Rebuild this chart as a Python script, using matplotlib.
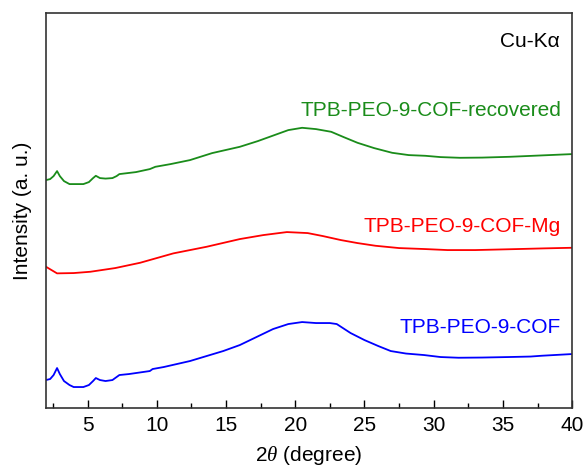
import numpy as np
import matplotlib
matplotlib.use('Agg')
from matplotlib import pyplot as plt
from matplotlib.ticker import MultipleLocator

plt.rcParams['font.family'] = ['Liberation Sans', 'DejaVu Sans']
plt.rcParams['mathtext.fontset'] = 'custom'
plt.rcParams['mathtext.rm'] = 'Liberation Sans'
plt.rcParams['mathtext.it'] = 'Liberation Serif:italic'

# XRD patterns (intensity in arbitrary, offset units)
cof_x = [2.0, 2.3, 2.55, 2.8, 3.0, 3.3, 3.7, 4.0, 4.7, 5.1, 5.4, 5.6, 5.9, 6.3, 6.8, 7.1,
         7.3, 8.0, 9.0, 9.5, 9.7, 10.5, 12.4, 14.8, 16.0, 17.2, 18.4, 19.5, 20.5, 21.5,
         22.5, 23.0, 24.0, 25.0, 26.0, 26.9, 28.0, 29.3, 30.5, 31.8, 33.5, 35.4, 37.0,
         37.8, 40.0]
cof_y = [89, 90, 94, 101, 95, 88, 84, 82, 82, 84, 88, 91, 89, 88, 89, 92,
         94, 95, 97, 98, 100, 102, 108, 118, 124, 132, 140, 145, 147, 146,
         146, 145, 136, 129, 123, 118, 115.5, 114, 112, 111.3, 111.5, 112, 112.5,
         113.3, 115]

mg_x = [2.0, 2.4, 2.8, 4.0, 5.2, 7.0, 8.8, 10.0, 11.2, 13.6, 16.0, 17.7, 19.4, 20.9,
        22.0, 23.3, 24.5, 25.8, 27.5, 29.4, 31.0, 33.0, 36.0, 38.0, 40.0]
mg_y = [202.3, 199, 195.7, 196, 197.3, 201, 206.3, 211, 215.7, 222.3, 230, 234, 237, 236,
        233, 229, 226, 223.3, 221, 220, 219, 219, 220, 220.7, 221.3]

rec_x = [2.0, 2.3, 2.55, 2.8, 3.0, 3.3, 3.7, 4.7, 5.1, 5.4, 5.6, 5.9, 6.3, 6.8, 7.1,
         7.3, 8.5, 9.5, 9.9, 11.0, 12.4, 14.0, 16.0, 17.3, 18.5, 19.5, 20.5, 21.5, 22.6,
         23.5, 24.5, 25.7, 27.0, 28.2, 29.4, 30.5, 31.9, 33.5, 35.5, 37.5, 40.0]
rec_y = [289, 290, 293, 298, 293, 288, 285, 285, 287, 291, 293.3, 291, 290.5, 291, 293,
         295, 297, 300, 302.3, 305, 309, 316, 322.3, 328, 334, 339, 341.3, 340, 337.3,
         332, 326.3, 321, 316.3, 314, 313.3, 312, 311.3, 311.5, 312.3, 313.5, 315]

names = ['TPB-PEO-9-COF', 'TPB-PEO-9-COF-Mg', 'TPB-PEO-9-COF-recovered']
colors = ['#0000ff', '#ff0000', '#1a8c1a']
label_y = [136, 237, 353]

fig = plt.figure(figsize=(5.85, 4.69), dpi=100)
ax = fig.add_axes([0.0786, 0.130, 0.8994, 0.842])

for xs, ys, c in zip([cof_x, mg_x, rec_x], [cof_y, mg_y, rec_y], colors):
    ax.plot(xs, ys, color=c, lw=1.3)

for name, c, ly in zip(names, colors, label_y):
    ax.text(39.2, ly, name, color=c, fontsize=15, ha='right', va='baseline')
ax.text(39.1, 422, 'Cu-K\u03b1', color='black', fontsize=15, ha='right', va='baseline')

ax.set_xlim(2, 40)
ax.set_ylim(61, 456)
ax.xaxis.set_major_locator(MultipleLocator(5))
ax.xaxis.set_minor_locator(MultipleLocator(2.5))
ax.tick_params(axis='x', which='major', direction='in', length=6, width=1, labelsize=15, pad=6)
ax.tick_params(axis='x', which='minor', direction='in', length=3.5, width=1)
ax.set_yticks([])
for s in ax.spines.values():
    s.set_linewidth(1.2)
    s.set_color('#333333')

ax.set_xlabel(r'2$\theta$ (degree)', fontsize=15, labelpad=6)
ax.set_ylabel('Intensity (a. u.)', fontsize=15, labelpad=10)

fig.savefig('out.png', dpi=100)
